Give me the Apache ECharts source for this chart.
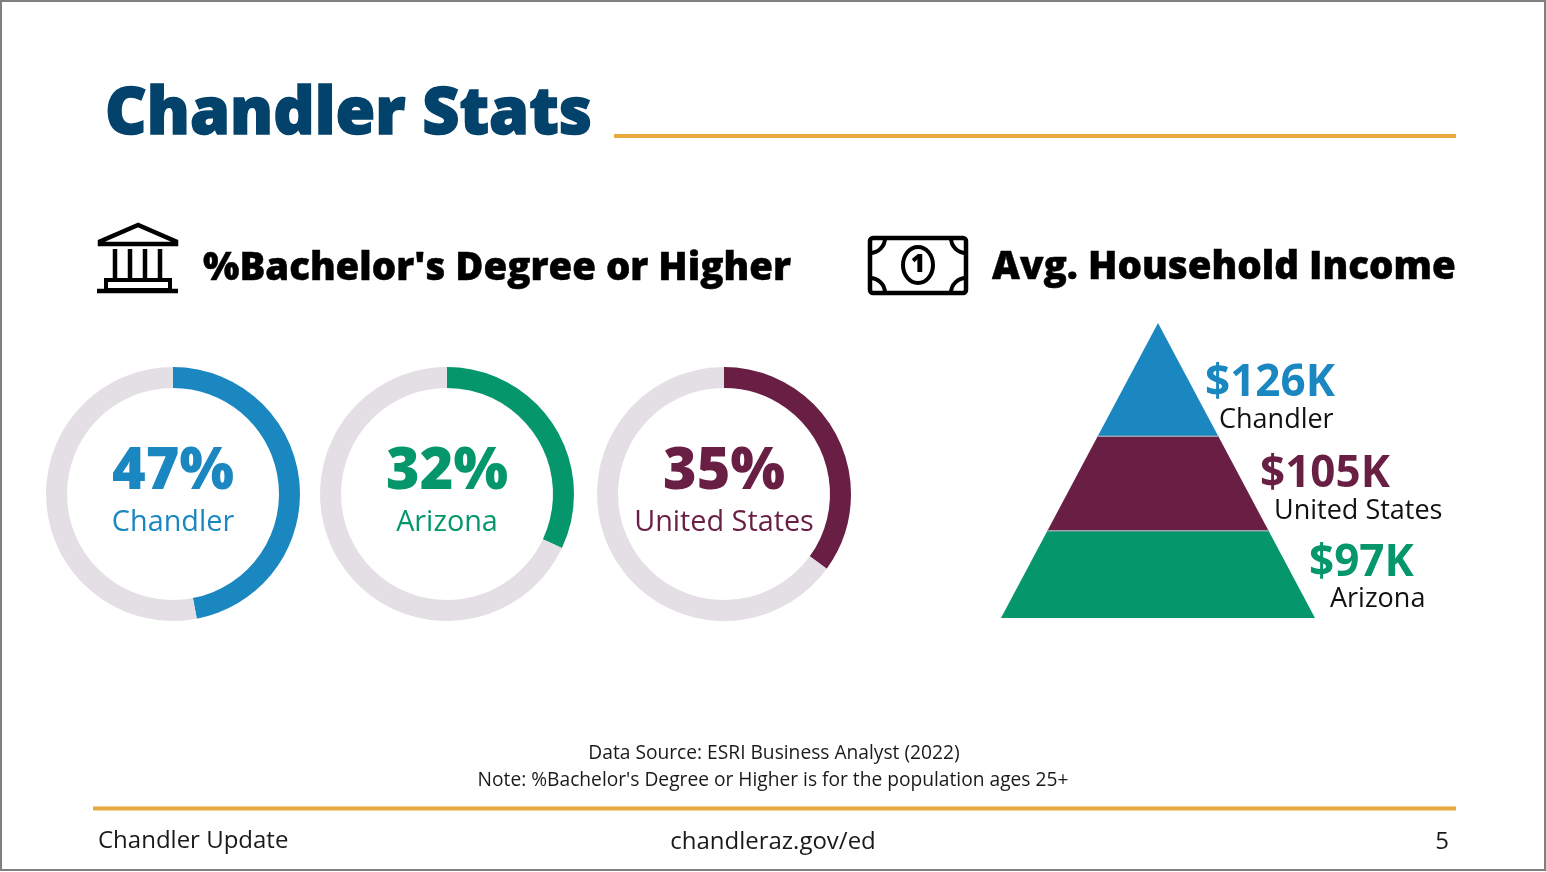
<!DOCTYPE html>
<html>
<head>
<meta charset="utf-8">
<title>Chandler Stats</title>
<style>
  html, body { margin: 0; padding: 0; background: #fff; }
  #main { width: 1546px; height: 872px; }
</style>
<script src="https://cdn.jsdelivr.net/npm/echarts@6/dist/echarts.min.js"></script>
</head>
<body>
<div id="main"></div>
<script>
var degreePlaces = ['Chandler', 'Arizona', 'United States'];
var degreeValues = [47, 32, 35];
var incomePlaces = ['Chandler', 'United States', 'Arizona'];
var incomeValues = [126, 105, 97];

var BLUE = '#1b87c1', GREEN = '#05966b', MAROON = '#691f43', NAVY = '#03426b';
var GOLD = '#e8a93e', RING = '#e3dfe4';
var FONT = '"Open Sans", sans-serif';

var degreeColors = [BLUE, GREEN, MAROON];
var incomeColors = [BLUE, MAROON, GREEN];
var donutCenters = [173, 447, 724];
var incomeValueX = [1205, 1260, 1309];
var incomeValueY = [383, 474, 563];
var incomeNameX = [1219, 1274, 1330];
var incomeNameY = [420, 511, 599];

var incomeTotal = incomeValues.reduce(function (a, b) { return a + b; }, 0);

// pyramid bands stacked from the bottom, height follows the value
var bands = [];
var stackTop = incomeTotal;
for (var i = 0; i < incomeValues.length; i++) {
  bands.push([stackTop - incomeValues[i], stackTop, i]);
  stackTop -= incomeValues[i];
}

function halfWidth(v) {
  return 1 - v / incomeTotal;
}

function renderBand(params, api) {
  var lo = api.value(0), hi = api.value(1), idx = api.value(2);
  var a = api.coord([-halfWidth(hi), hi]);
  var b = api.coord([halfWidth(hi), hi]);
  var c = api.coord([halfWidth(lo), lo]);
  var d = api.coord([-halfWidth(lo), lo]);
  var kids = [{
    type: 'polygon',
    shape: { points: [a, b, c, d] },
    style: { fill: incomeColors[idx] }
  }];
  if (idx > 0) {
    kids.push({
      type: 'line',
      shape: { x1: a[0], y1: a[1], x2: b[0], y2: b[1] },
      style: { stroke: '#98a3b3', lineWidth: 1.5 }
    });
  }
  return { type: 'group', children: kids };
}

var series = [];
degreeValues.forEach(function (v, i) {
  series.push({
    type: 'pie',
    silent: true,
    animation: false,
    center: [donutCenters[i], 494],
    radius: [106, 127],
    startAngle: 90,
    clockwise: true,
    labelLine: { show: false },
    data: [
      {
        value: v,
        name: degreePlaces[i],
        itemStyle: { color: degreeColors[i] },
        label: { show: false }
      },
      {
        value: 100 - v,
        name: 'rest',
        itemStyle: { color: RING },
        label: { show: false }
      }
    ]
  });
});
series.push({
  type: 'custom',
  silent: true,
  animation: false,
  coordinateSystem: 'cartesian2d',
  renderItem: renderBand,
  encode: { x: 2, y: [0, 1] },
  data: bands
});

// heavy: outline width that thickens the glyphs, squeeze: horizontal scale
function text(str, x, y, size, color, weight, align, heavy, squeeze) {
  var el = {
    type: 'text',
    silent: true,
    x: x,
    y: y,
    scaleX: squeeze || 1,
    style: {
      text: str,
      fill: color,
      font: (weight || 400) + ' ' + size + 'px ' + FONT,
      textAlign: align || 'left',
      textVerticalAlign: 'middle'
    }
  };
  if (heavy) {
    el.style.stroke = color;
    el.style.lineWidth = heavy;
  }
  return el;
}

function stroked(type, shape, width) {
  return {
    type: type,
    silent: true,
    shape: shape,
    style: { stroke: '#000', lineWidth: width, fill: 'none' }
  };
}

function hLine(x1, x2, y, width) {
  return stroked('line', { x1: x1, y1: y, x2: x2, y2: y }, width);
}

function goldLine(x1, x2, y) {
  var el = hLine(x1, x2, y, 4);
  el.style.stroke = GOLD;
  return el;
}

function column(x) {
  return stroked('line', { x1: x, y1: 249, x2: x, y2: 279 }, 4.5);
}

var graphics = [
  {
    type: 'rect',
    silent: true,
    shape: { x: 1, y: 1, width: 1544, height: 869 },
    style: { fill: 'none', stroke: '#808080', lineWidth: 2 }
  },
  text('Chandler Stats', 105, 115, 66, NAVY, 800, 'left', 1.5, 0.976),
  goldLine(614, 1456, 136),
  text("%Bachelor's Degree or Higher", 203, 269, 38.4, '#000', 800, 'left', 0.5),
  text('Avg. Household Income', 992, 268, 38.5, '#000', 800, 'left', 0.5),
  text('Data Source: ESRI Business Analyst (2022)', 774, 754, 19.2, '#1a1a1a', 400, 'center'),
  text("Note: %Bachelor's Degree or Higher is for the population ages 25+", 773, 781, 19.2, '#1a1a1a', 400, 'center'),
  goldLine(93, 1456, 808.5),
  text('Chandler Update', 98, 841, 24, '#1a1a1a'),
  text('chandleraz.gov/ed', 773, 842, 24, '#1a1a1a', 400, 'center'),
  text('5', 1442, 842, 24, '#1a1a1a', 400, 'center'),

  // bank icon
  stroked('polygon', { points: [[138, 225], [100, 241.5], [100, 244], [176, 244], [176, 241.5]] }, 4.5),
  column(115), column(130), column(145), column(160),
  stroked('rect', { x: 106, y: 280, width: 64, height: 10 }, 4),
  hLine(97, 178, 291, 4.5),

  // dollar bill icon
  stroked('rect', { x: 870, y: 238, width: 96, height: 55, r: 3 }, 4.5),
  stroked('arc', { cx: 870, cy: 238, r: 15, startAngle: 0, endAngle: Math.PI / 2 }, 4),
  stroked('arc', { cx: 966, cy: 238, r: 15, startAngle: Math.PI / 2, endAngle: Math.PI }, 4),
  stroked('arc', { cx: 870, cy: 293, r: 15, startAngle: -Math.PI / 2, endAngle: 0 }, 4),
  stroked('arc', { cx: 966, cy: 293, r: 15, startAngle: Math.PI, endAngle: Math.PI * 1.5 }, 4),
  stroked('ellipse', { cx: 918, cy: 265, rx: 15, ry: 18 }, 4),
  text('1', 918, 265, 25, '#000', 800, 'center')
];

// text inside the donuts and beside the pyramid
degreeValues.forEach(function (v, i) {
  graphics.push(text(v + '%', donutCenters[i], 473, 57.5, degreeColors[i], 800, 'center'));
  graphics.push(text(degreePlaces[i], donutCenters[i], 523, 28.8, degreeColors[i], 400, 'center'));
});
incomeValues.forEach(function (v, i) {
  graphics.push(text('$' + v + 'K', incomeValueX[i], incomeValueY[i], 44, incomeColors[i], 700));
  graphics.push(text(incomePlaces[i], incomeNameX[i], incomeNameY[i], 27, '#111'));
});

var myChart = echarts.init(document.getElementById('main'), null, { renderer: 'canvas' });

var option = {
  backgroundColor: '#fff',
  animation: false,
  tooltip: { show: false },
  grid: { left: 1001, top: 323, width: 314, height: 295 },
  xAxis: { type: 'value', min: -1, max: 1, show: false },
  yAxis: { type: 'value', min: 0, max: incomeTotal, show: false },
  series: series,
  graphic: { elements: graphics }
};

myChart.setOption(option);
</script>
</body>
</html>
